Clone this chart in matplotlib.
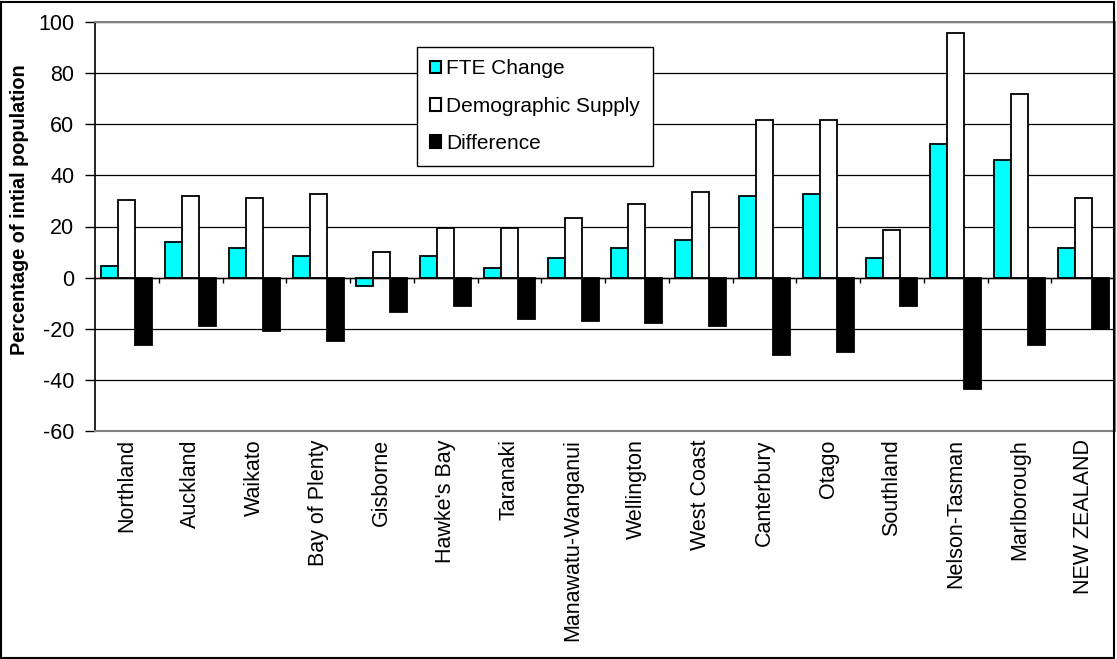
import numpy as np
import matplotlib
matplotlib.use('Agg')
import matplotlib.pyplot as plt
from matplotlib.patches import Rectangle

plt.rcParams['font.family'] = ['Liberation Sans', 'DejaVu Sans']
plt.rcParams['axes.unicode_minus'] = False

regions = ['Northland', 'Auckland', 'Waikato', 'Bay of Plenty', 'Gisborne',
           "Hawke's Bay", 'Taranaki', 'Manawatu-Wanganui', 'Wellington',
           'West Coast', 'Canterbury', 'Otago', 'Southland', 'Nelson-Tasman',
           'Marlborough', 'NEW ZEALAND']
fte_change = [4.5, 14.0, 11.6, 8.5, -3.4, 8.4, 3.8, 7.6, 11.5, 14.8,
              31.8, 32.8, 7.6, 52.3, 46.0, 11.6]
demo_supply = [30.5, 31.9, 31.1, 32.8, 10.1, 19.3, 19.3, 23.3, 28.9, 33.5,
               61.8, 61.8, 18.5, 95.6, 71.9, 31.1]
difference = [-26.2, -19.1, -20.8, -24.7, -13.6, -11.2, -16.0, -17.0, -17.7,
              -19.1, -30.2, -29.2, -11.2, -43.5, -26.2, -20.0]
yticks = [-60, -40, -20, 0, 20, 40, 60, 80, 100]

fig = plt.figure(figsize=(11.17, 6.59), dpi=100)
W, H = 1117, 659
ax = fig.add_axes([95 / W, 1 - 431 / H, 1020 / W, 409 / H])

x = np.arange(len(regions))
w = 0.8 / 3
ax.bar(x - w, fte_change, w, color='#00FFFF', edgecolor='black', lw=1.3, label='FTE Change', zorder=3)
ax.bar(x, demo_supply, w, color='white', edgecolor='black', lw=1.3, label='Demographic Supply', zorder=3)
ax.bar(x + w, difference, w, color='black', edgecolor='black', lw=1.3, label='Difference', zorder=3)

ax.set_xlim(-0.5, len(regions) - 0.5)
ax.set_ylim(-60, 100)
ax.set_yticks(yticks)
ax.yaxis.grid(True, color='black', lw=0.9)
ax.set_axisbelow(True)

# category axis crosses at zero with tick marks between categories
ax.axhline(0, color='black', lw=1.0, zorder=4)
bounds = np.arange(len(regions) + 1) - 0.5
ax.vlines(bounds[1:-1], -2.0, 0, color='black', lw=1.0, zorder=4)

ax.set_xticks(x)
ax.set_xticklabels(regions, rotation=90, fontsize=15.5, va='top')
ax.tick_params(axis='x', length=0, pad=6)
ax.tick_params(axis='y', length=7, width=1, direction='out', labelsize=15.5, pad=8)

for s in ['top', 'right', 'bottom']:
    ax.spines[s].set_color('#808080')
    ax.spines[s].set_linewidth(1.5)
ax.spines['left'].set_color('black')
ax.spines['left'].set_linewidth(1.2)

fig.text(20 / W, 1 - 210 / H, 'Percentage of intial population', rotation=90,
         fontsize=14.3, fontweight='bold', ha='center', va='center')

leg = ax.legend(loc='upper left', bbox_to_anchor=(0.316, 0.939), fontsize=15,
                frameon=True, fancybox=False, framealpha=1, edgecolor='black',
                handlelength=0.55, handleheight=0.55, handletextpad=0.25,
                labelspacing=0.88, borderpad=0.6, borderaxespad=0)
leg.get_frame().set_linewidth(1.0)
for p in leg.get_patches():
    p.set_linewidth(1.5)

fig.patches.append(Rectangle((1 / W, 1 / H), 1113 / W, 656 / H, transform=fig.transFigure,
                             fill=False, edgecolor='black', lw=1.5))

fig.savefig('out.png', dpi=100)
